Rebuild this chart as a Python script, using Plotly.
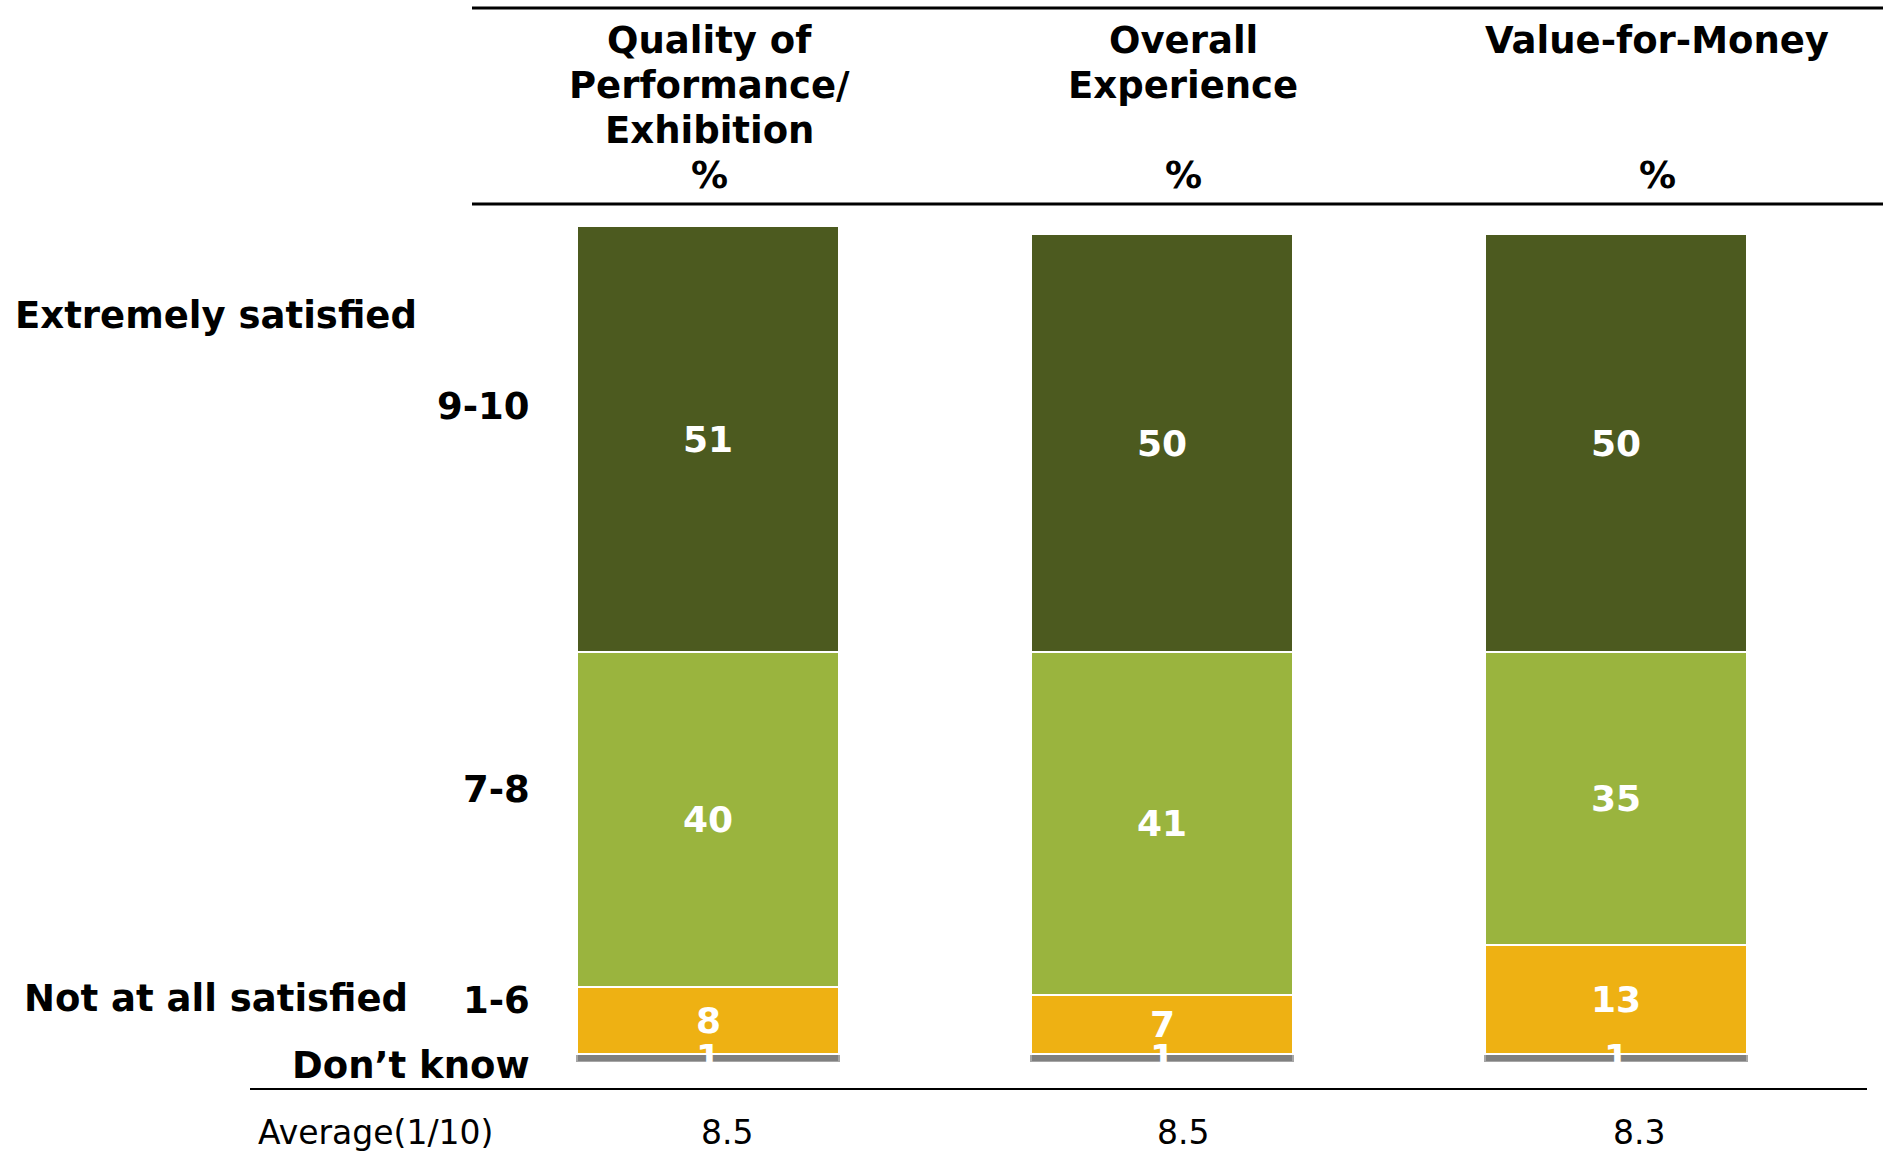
import plotly.graph_objects as go

# Satisfaction ratings (%), one column per aspect
aspects = ["Quality of Performance/Exhibition", "Overall Experience", "Value-for-Money"]
header_lines = [["Quality of", "Performance/", "Exhibition"],
                ["Overall", "Experience"],
                ["Value-for-Money"]]
dont_know = [1, 1, 1]
score_1_6 = [8, 7, 13]
score_7_8 = [40, 41, 35]
score_9_10 = [51, 50, 50]
averages = ["8.5", "8.5", "8.3"]

band_labels = ["9-10", "7-8", "1-6", "Don\u2019t know"]

W, H = 1883, 1168
ML, MR, MT, MB = 481, 40, 226, 106
PW = W - ML - MR
PH = H - MT - MB


def px_x(px):
    return (px - ML) / PW


def px_y(py):
    return (H - MB - py) / PH


FONT = "DejaVu Sans"
DARK = "#4C5A1F"
LIGHT = "#9AB43E"
GOLD = "#EEB113"
GREY = "#808080"

series = [
    ("Don't know", dont_know, GREY, "#A6A6A6"),
    ("1-6", score_1_6, GOLD, "white"),
    ("7-8", score_7_8, LIGHT, "white"),
    ("9-10", score_9_10, DARK, "white"),
]

fig = go.Figure()
for name, vals, col, edge in series:
    fig.add_trace(go.Bar(
        x=aspects, y=vals, name=name,
        marker=dict(color=col, line=dict(color=edge, width=2)),
        hoverinfo="skip",
    ))

annotations = []

# Value labels centred in each segment
base = [0, 0, 0]
for name, vals, col, edge in series:
    for i, v in enumerate(vals):
        annotations.append(dict(
            x=aspects[i], y=base[i] + v / 2, xref="x", yref="y",
            text=str(v), showarrow=False,
            font=dict(family=FONT, size=36, color="white", weight="bold"),
            xanchor="center", yanchor="middle",
        ))
        base[i] += v

# Column headers
header_cx = [709, 1183, 1657]
header_rows_y = [41, 85, 130]
HEAD_FONT = dict(family=FONT, size=37, color="black", weight="bold")
for cx, lines in zip(header_cx, header_lines):
    for ly, txt in zip(header_rows_y, lines):
        annotations.append(dict(
            x=px_x(cx), y=px_y(ly), xref="paper", yref="paper",
            text=txt, showarrow=False, font=HEAD_FONT,
            xanchor="center", yanchor="middle",
        ))
    annotations.append(dict(
        x=px_x(cx), y=px_y(175), xref="paper", yref="paper",
        text="%", showarrow=False, font=HEAD_FONT,
        xanchor="center", yanchor="middle",
    ))

# Band labels on the left
LABEL_FONT = dict(family=FONT, size=37, color="black", weight="bold")
band_y = [406, 789, 1000, 1065]
for txt, ly in zip(band_labels, band_y):
    annotations.append(dict(
        x=px_x(532), y=px_y(ly), xref="paper", yref="paper",
        text=txt, showarrow=False, font=LABEL_FONT,
        xanchor="right", yanchor="middle",
    ))

for txt, lx, ly in [("Extremely satisfied", 13, 315), ("Not at all satisfied", 22, 998)]:
    annotations.append(dict(
        x=px_x(lx), y=px_y(ly), xref="paper", yref="paper",
        text=txt, showarrow=False, font=LABEL_FONT,
        xanchor="left", yanchor="middle",
    ))

# Average score row
AVG_FONT = dict(family=FONT, size=33, color="black")
annotations.append(dict(
    x=px_x(256), y=px_y(1132), xref="paper", yref="paper",
    text="Average(1/10)", showarrow=False, font=AVG_FONT,
    xanchor="left", yanchor="middle",
))
for cx, txt in zip([727, 1183, 1639], averages):
    annotations.append(dict(
        x=px_x(cx), y=px_y(1132), xref="paper", yref="paper",
        text=txt, showarrow=False, font=AVG_FONT,
        xanchor="center", yanchor="middle",
    ))

shapes = [
    dict(type="line", xref="paper", yref="paper",
         x0=px_x(472), x1=px_x(1883), y0=px_y(8), y1=px_y(8),
         line=dict(color="black", width=3)),
    dict(type="line", xref="paper", yref="paper",
         x0=px_x(472), x1=px_x(1883), y0=px_y(204), y1=px_y(204),
         line=dict(color="black", width=3)),
    dict(type="line", xref="paper", yref="paper",
         x0=px_x(250), x1=px_x(1867), y0=px_y(1089), y1=px_y(1089),
         line=dict(color="black", width=2)),
]

fig.update_layout(
    width=W, height=H,
    margin=dict(l=ML, r=MR, t=MT, b=MB, pad=0),
    barmode="stack", bargap=0.423,
    showlegend=False,
    plot_bgcolor="white", paper_bgcolor="white",
    xaxis=dict(visible=False, range=[-0.5, 2.5]),
    yaxis=dict(visible=False, range=[0, 100]),
    annotations=annotations, shapes=shapes,
)

fig.write_html("out.html")
